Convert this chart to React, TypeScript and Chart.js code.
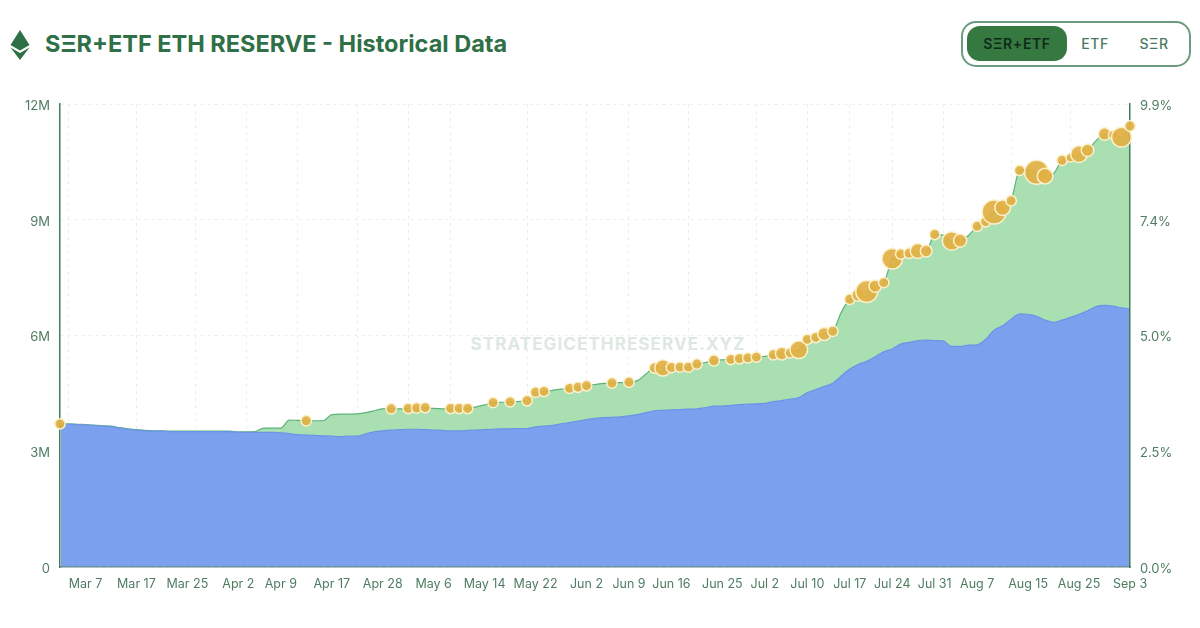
import React, { useEffect, useRef } from "react";
import { Chart, registerables } from "chart.js";

Chart.register(...registerables);

const DATES = [
  "Mar 4", "Mar 5", "Mar 6", "Mar 7", "Mar 10", "Mar 11", "Mar 12", "Mar 13", "Mar 14",
  "Mar 17", "Mar 18", "Mar 19", "Mar 20", "Mar 21", "Mar 24", "Mar 25", "Mar 26", "Mar 27", "Mar 28", "Mar 31",
  "Apr 1", "Apr 2", "Apr 3", "Apr 4", "Apr 7", "Apr 8", "Apr 9", "Apr 10", "Apr 11",
  "Apr 14", "Apr 15", "Apr 16", "Apr 17", "Apr 21", "Apr 22", "Apr 23", "Apr 24", "Apr 25", "Apr 28", "Apr 29", "Apr 30",
  "May 1", "May 2", "May 5", "May 6", "May 7", "May 8", "May 9", "May 12", "May 13", "May 14", "May 15", "May 16",
  "May 19", "May 20", "May 21", "May 22", "May 23", "May 27", "May 28", "May 29", "May 30",
  "Jun 2", "Jun 3", "Jun 4", "Jun 5", "Jun 6", "Jun 9", "Jun 10", "Jun 11", "Jun 12", "Jun 13",
  "Jun 16", "Jun 17", "Jun 18", "Jun 20", "Jun 23", "Jun 24", "Jun 25", "Jun 26", "Jun 27", "Jun 30",
  "Jul 1", "Jul 2", "Jul 3", "Jul 7", "Jul 8", "Jul 9", "Jul 10", "Jul 11", "Jul 14", "Jul 15", "Jul 16", "Jul 17", "Jul 18",
  "Jul 21", "Jul 22", "Jul 23", "Jul 24", "Jul 25", "Jul 28", "Jul 29", "Jul 30", "Jul 31",
  "Aug 1", "Aug 4", "Aug 5", "Aug 6", "Aug 7", "Aug 8", "Aug 11", "Aug 12", "Aug 13", "Aug 14", "Aug 15",
  "Aug 18", "Aug 19", "Aug 20", "Aug 21", "Aug 22", "Aug 25", "Aug 26", "Aug 27", "Aug 28", "Aug 29", "Sep 2", "Sep 3",
];

// millions of ETH
const ETF_RESERVE = [
  3.7, 3.7, 3.69, 3.68, 3.67, 3.65, 3.64, 3.6, 3.57, 3.55, 3.53, 3.52, 3.52, 3.51, 3.51, 3.51, 3.51, 3.51, 3.51, 3.51,
  3.51, 3.49, 3.49, 3.49, 3.49, 3.49, 3.48, 3.46, 3.43, 3.42, 3.41, 3.4, 3.39, 3.38, 3.39, 3.39, 3.45, 3.5, 3.53, 3.55,
  3.56, 3.57, 3.57, 3.56, 3.55, 3.54, 3.53, 3.53, 3.54, 3.55, 3.56, 3.57, 3.58, 3.58, 3.59, 3.59, 3.63, 3.65, 3.67, 3.71,
  3.74, 3.78, 3.82, 3.85, 3.87, 3.88, 3.89, 3.92, 3.95, 4.0, 4.05, 4.06, 4.07, 4.08, 4.09, 4.1, 4.13, 4.17, 4.17, 4.19,
  4.21, 4.22, 4.23, 4.24, 4.29, 4.31, 4.35, 4.39, 4.52, 4.6, 4.68, 4.76, 4.95, 5.13, 5.25, 5.33, 5.45, 5.58, 5.65, 5.78,
  5.82, 5.87, 5.88, 5.87, 5.86, 5.72, 5.72, 5.75, 5.76, 5.9, 6.14, 6.25, 6.42, 6.56, 6.55, 6.5, 6.4, 6.34, 6.4, 6.47,
  6.55, 6.64, 6.75, 6.78, 6.76, 6.72, 6.69,
];

const TOTAL_RESERVE = [
  3.71, 3.71, 3.7, 3.69, 3.68, 3.66, 3.65, 3.61, 3.58, 3.56, 3.54, 3.53, 3.53, 3.52, 3.52, 3.52, 3.52, 3.52, 3.52, 3.52,
  3.52, 3.5, 3.5, 3.51, 3.6, 3.6, 3.6, 3.81, 3.8, 3.79, 3.79, 3.79, 3.95, 3.96, 3.96, 3.97, 4.0, 4.05, 4.1, 4.1,
  4.1, 4.11, 4.12, 4.13, 4.11, 4.1, 4.11, 4.11, 4.11, 4.15, 4.2, 4.26, 4.27, 4.28, 4.29, 4.31, 4.53, 4.55, 4.58, 4.61,
  4.63, 4.66, 4.7, 4.73, 4.76, 4.77, 4.78, 4.79, 4.83, 5.0, 5.16, 5.16, 5.17, 5.18, 5.18, 5.26, 5.3, 5.35, 5.37, 5.38,
  5.4, 5.42, 5.44, 5.46, 5.5, 5.53, 5.55, 5.63, 5.9, 5.95, 6.04, 6.11, 6.6, 6.94, 7.05, 7.14, 7.28, 7.37, 7.99, 8.11,
  8.13, 8.19, 8.19, 8.62, 8.6, 8.45, 8.46, 8.6, 8.83, 8.95, 9.2, 9.31, 9.49, 10.28, 10.3, 10.23, 10.13, 10.2, 10.54, 10.61,
  10.7, 10.8, 11.05, 11.22, 11.2, 11.14, 11.43,
];

const BUY_DATES = [
  "Mar 4", "Apr 14", "Apr 29", "May 1", "May 2", "May 5", "May 8", "May 9", "May 12", "May 15", "May 19", "May 21",
  "May 22", "May 23", "May 29", "May 30", "Jun 2", "Jun 5", "Jun 9", "Jun 12", "Jun 13", "Jun 16", "Jun 17", "Jun 18",
  "Jun 20", "Jun 24", "Jun 26", "Jun 27", "Jun 30", "Jul 1", "Jul 3", "Jul 7", "Jul 8", "Jul 9", "Jul 10", "Jul 11",
  "Jul 14", "Jul 15", "Jul 17", "Jul 18", "Jul 21", "Jul 22", "Jul 23", "Jul 24", "Jul 25", "Jul 28", "Jul 29", "Jul 30",
  "Jul 31", "Aug 4", "Aug 5", "Aug 7", "Aug 8", "Aug 11", "Aug 12", "Aug 13", "Aug 14", "Aug 18", "Aug 19", "Aug 21",
  "Aug 22", "Aug 25", "Aug 26", "Aug 28", "Aug 29", "Sep 2", "Sep 3",
];

// thousands of ETH bought that day
const BUY_ETH = [
  19, 19, 19, 19, 19, 19, 19, 19, 19, 19, 19, 19,
  19, 19, 19, 19, 19, 19, 19, 19, 46, 19, 19, 19,
  19, 21, 19, 19, 19, 19, 19, 28, 19, 54, 19, 19,
  30, 19, 19, 28, 84, 27, 19, 74, 19, 19, 38, 24,
  19, 60, 30, 19, 19, 100, 42, 19, 19, 100, 42, 19,
  14, 48, 27, 27, 14, 68, 19,
];

const TICK_DATES = [
  "Mar 7", "Mar 17", "Mar 25", "Apr 2", "Apr 9", "Apr 17", "Apr 28", "May 6", "May 14", "May 22", "Jun 2", "Jun 9",
  "Jun 16", "Jun 25", "Jul 2", "Jul 10", "Jul 17", "Jul 24", "Jul 31", "Aug 7", "Aug 15", "Aug 25", "Sep 3",
];

const GRID_DATES = [
  "Mar 5", "Mar 17", "Mar 26", "Apr 3", "Apr 11", "Apr 23", "May 1", "May 8", "May 21", "Jun 2", "Jun 9", "Jun 18",
  "Jul 1", "Jul 10", "Jul 17", "Jul 24", "Aug 1", "Aug 13", "Aug 22",
];

const PCT_TICKS = [0, 2.475, 4.95, 7.425, 9.9];

const GREEN = "#2f7047";
const TICK_GREEN = "#4f7d62";

// the reference sits its y labels a little under the grid lines
const nudgeYLabels = {
  id: "nudgeYLabels",
  beforeDraw(chart: any) {
    ["y", "y1"].forEach((id) => {
      chart.scales[id].getLabelItems().forEach((item: any) => {
        if (!item.nudged) {
          item.options.translation[1] += 2;
          item.nudged = true;
        }
      });
    });
  },
};

function EthLogo() {
  return (
    <svg width="20" height="30" viewBox="0 0 20 30" style={{ position: "absolute", left: 10, top: 30 }}>
      <polygon points="10,0 19.5,15 10,20.5 0.5,15" fill={GREEN} />
      <polygon points="0.5,17.5 10,23 19.5,17.5 10,30" fill={GREEN} />
    </svg>
  );
}

export default function App() {
  const canvasRef = useRef<HTMLCanvasElement>(null);

  useEffect(() => {
    if (!canvasRef.current) return;

    const areaClip = { left: -1, right: -1, top: 8, bottom: -1 };

    const chart = new Chart(canvasRef.current, {
      type: "line",
      plugins: [nudgeYLabels],
      data: {
        labels: DATES,
        datasets: [
          {
            label: "ETF",
            data: ETF_RESERVE,
            borderColor: "#6a94e6",
            backgroundColor: "#7ba0ee",
            borderWidth: 1.2,
            pointRadius: 0,
            cubicInterpolationMode: "monotone",
            fill: "origin",
            clip: areaClip,
            order: 2,
          },
          {
            label: "SER+ETF",
            data: TOTAL_RESERVE,
            borderColor: "#5cb37a",
            backgroundColor: "#a9dfb1",
            borderWidth: 1.2,
            pointRadius: 0,
            cubicInterpolationMode: "monotone",
            fill: "-1",
            clip: areaClip,
            order: 3,
          },
          {
            type: "bubble",
            label: "Purchases",
            data: BUY_DATES.map((d, i) => ({
              x: d,
              y: TOTAL_RESERVE[DATES.indexOf(d)],
              r: 1.2 * Math.sqrt(BUY_ETH[i]),
            })),
            backgroundColor: "rgba(226,176,66,0.92)",
            borderColor: "#fbf1cf",
            borderWidth: 1.5,
            clip: false,
            order: 1,
          },
        ],
      } as any,
      options: {
        responsive: false,
        animation: false,
        layout: {
          autoPadding: false,
          padding: { top: 104 },
        },
        plugins: {
          legend: { display: false },
          tooltip: { enabled: false },
        },
        scales: {
          x: {
            type: "category",
            offset: false,
            afterFit: (scale: any) => {
              scale.height = 61;
            },
            border: { color: "#6f8f9e", width: 1.5, dash: [3, 4] },
            grid: {
              drawTicks: false,
              lineWidth: 1,
              color: (ctx: any) =>
                GRID_DATES.includes(DATES[ctx.index]) ? "#eceeec" : "transparent",
            },
            ticks: {
              autoSkip: false,
              maxRotation: 0,
              minRotation: 0,
              padding: 10,
              color: TICK_GREEN,
              font: { family: "Inter", size: 12.5 },
              callback: (_: any, i: number) =>
                TICK_DATES.includes(DATES[i]) ? DATES[i] : "",
            },
          },
          y: {
            position: "left",
            min: 0,
            max: 12,
            afterFit: (scale: any) => {
              scale.width = 60;
            },
            border: { color: "#3f7f58", width: 1.5, dash: [3, 4] },
            grid: { color: "#eceeec", drawTicks: false },
            ticks: {
              stepSize: 3,
              padding: 10,
              color: TICK_GREEN,
              font: { family: "Inter", size: 13 },
              callback: (v: any) => (v === 0 ? "0" : `${v}M`),
            },
          },
          y1: {
            position: "right",
            min: 0,
            max: 9.9,
            afterFit: (scale: any) => {
              scale.width = 70;
            },
            afterBuildTicks: (scale: any) => {
              scale.ticks = PCT_TICKS.map((value) => ({ value }));
            },
            border: { color: "#3f7f58", width: 1.5 },
            grid: { display: false, drawOnChartArea: false, drawTicks: false },
            ticks: {
              padding: 10,
              color: TICK_GREEN,
              font: { family: "Inter", size: 13 },
              callback: (v: any) => `${Number(v).toFixed(1)}%`,
            },
          },
        },
      },
    });

    return () => {
      chart.destroy();
    };
  }, []);

  return (
    <div
      style={{
        position: "absolute",
        left: 0,
        top: 0,
        width: 1200,
        height: 628,
        background: "#ffffff",
        fontFamily: "Inter",
        overflow: "hidden",
      }}
    >
      <EthLogo />
      <div
        style={{
          position: "absolute",
          left: 45,
          top: 28,
          fontSize: 23.5,
          lineHeight: "32px",
          fontWeight: 700,
          color: GREEN,
          whiteSpace: "nowrap",
        }}
      >
        SΞR+ETF ETH RESERVE - Historical Data
      </div>
      <div
        style={{
          position: "absolute",
          left: 961,
          top: 21,
          width: 230,
          height: 46,
          boxSizing: "border-box",
          border: "2px solid #6b9c80",
          borderRadius: 15,
        }}
      />
      <div
        style={{
          position: "absolute",
          left: 967,
          top: 26,
          width: 100,
          height: 35,
          borderRadius: 13,
          background: "#357840",
          color: "#102a1a",
          fontSize: 14,
          fontWeight: 600,
          letterSpacing: 0.6,
          lineHeight: "35px",
          textAlign: "center",
        }}
      >
        SΞR+ETF
      </div>
      <div style={{ position: "absolute", left: 1065, top: 26, width: 60, lineHeight: "35px", fontSize: 14, fontWeight: 500, letterSpacing: 0.5, textAlign: "center", color: "#4a7a5e" }}>
        ETF
      </div>
      <div style={{ position: "absolute", left: 1124, top: 26, width: 60, lineHeight: "35px", fontSize: 14, fontWeight: 500, letterSpacing: 0.5, textAlign: "center", color: "#4a7a5e" }}>
        SΞR
      </div>
      <div
        style={{
          position: "absolute",
          left: 470,
          top: 333,
          width: 276,
          textAlign: "center",
          fontSize: 17,
          lineHeight: "22px",
          fontWeight: 700,
          letterSpacing: 1.1,
          color: "#dee8e3",
          whiteSpace: "nowrap",
        }}
      >
        STRATEGICETHRESERVE.XYZ
      </div>
      <canvas
        ref={canvasRef}
        width={1200}
        height={628}
        style={{ position: "absolute", left: 0, top: 0, width: 1200, height: 628 }}
      />
    </div>
  );
}
